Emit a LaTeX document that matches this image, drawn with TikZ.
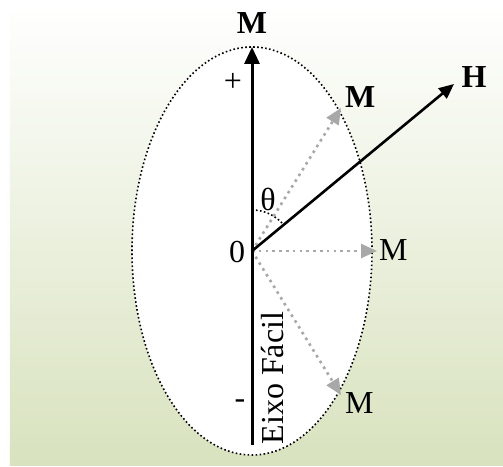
\documentclass[tikz,border=0pt]{standalone}
\usepackage{fontspec}
\setmainfont{Liberation Serif}
\usetikzlibrary{arrows.meta}
\definecolor{bgbot}{RGB}{216,226,190}
\definecolor{bgmid}{RGB}{236,242,225}
\definecolor{dotgray}{RGB}{168,168,168}
\begin{document}
\begin{tikzpicture}[x=1pt,y=1pt,font=\fontsize{32}{38}\selectfont,inner sep=0pt,
  axisvec/.style={line width=3pt,-{Triangle[length=17pt,width=15pt]}},
  fieldvec/.style={line width=2.6pt,-{Triangle[length=15pt,width=13pt]}},
  magvec/.style={dotgray,line width=2.6pt,dash pattern=on 2.6pt off 4.2pt,-{Triangle[length=16pt,width=14pt]}},
  dotline/.style={line width=1.6pt,dash pattern=on 1.6pt off 2.4pt}]
\useasboundingbox(-252,-215)rectangle(251,251);
\shade[top color=white,middle color=bgmid,bottom color=bgbot](-242,-214)rectangle(251,247);
\coordinate(O)at(0,0);\coordinate(Abot)at(0,-194);\coordinate(Atop)at(0,204);\coordinate(Htip)at(202,167);
\coordinate(M1)at(89,143);\coordinate(M2)at(125,0);\coordinate(M3)at(89,-144);
\draw[dotline,fill=white](O)ellipse[x radius=120,y radius=204];
\draw[dotline](0,41)arc[start angle=90,end angle=40,radius=41];
\foreach\m in{M1,M2,M3}{\draw[magvec](O)--(\m);}
\draw[axisvec](Abot)--(Atop);
\draw[fieldvec](O)--(Htip);
\node(mtop)at(0,228){\textbf{M}};\node(hlab)at(222,174){\textbf{H}};
\node[anchor=west](m1lab)at(93,154){\textbf{M}};\node[anchor=west](m2lab)at(127,1){M};\node[anchor=west](m3lab)at(93,-152){M};
\node(theta)at(16,52){θ};\node(zero)at(-15,-1){0};\node(plus)at(-19,169){+};\node(minus)at(-12,-153){-};
\node[rotate=90](eixo)at(21,-127){Eixo Fácil};
\end{tikzpicture}
\end{document}
